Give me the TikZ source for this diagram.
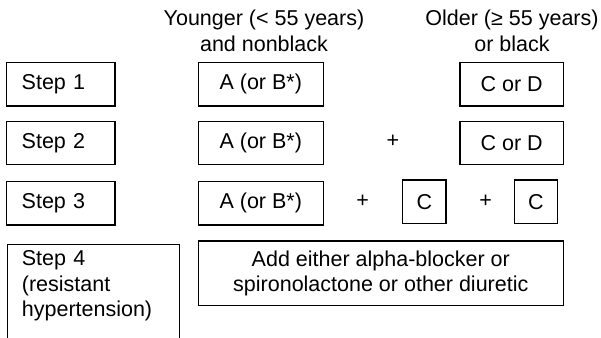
\documentclass[tikz,border=0pt]{standalone}
\usepackage{fontspec}
\setmainfont{Liberation Sans}
\begin{document}
\begin{tikzpicture}[x=1pt,y=-1pt,
  every node/.style={font=\fontsize{21.5}{25.5}\selectfont, inner sep=0pt},
  box/.style={draw, line width=1.1pt, align=center},
  stepbox/.style={box, text width=78.3pt, inner xsep=15pt, align=left, minimum height=43.3pt},
  abox/.style={box, minimum width=125pt, minimum height=43.3pt},
  cdbox/.style={box, minimum width=103.3pt, minimum height=43.3pt},
  cbox/.style={box, minimum width=43.3pt, minimum height=43.3pt},
  plussign/.style={},
  header/.style={align=center, anchor=north}]
\useasboundingbox (0,0) rectangle (601,337);
\clip (0,0) rectangle (601,337);
% headers
\node[header] (hy) at (264,10) {Younger (< 55 years)\\and nonblack};
\node[header] (ho) at (512,10) {Older (≥ 55 years)\\or black};
% step labels
\node[stepbox] (s1) at (60.85,84.35) {Step 1};
\node[stepbox] (s2) at (60.85,143) {Step 2};
\node[stepbox] (s3) at (60.85,203.35) {Step 3};
\node[box, minimum width=172.3pt, minimum height=120pt, anchor=north west] (s4) at (6.7,244) {};
\node[anchor=north west, text width=150pt, align=left] (s4t) at ([xshift=15pt,yshift=-6.5pt]s4.north west) {Step 4\\(resistant\\hypertension)};
% row 1
\node[abox] (a1) at (260.8,84.35) {A (or B*)};
\node[cdbox] (cd1) at (511.65,84.35) {C or D};
% row 2
\node[abox] (a2) at (260.8,143) {A (or B*)};
\node[plussign] (p2) at (393,141.5) {+};
\node[cdbox] (cd2) at (511.65,143) {C or D};
% row 3
\node[abox] (a3) at (260.8,203.35) {A (or B*)};
\node[plussign] (p3a) at (362.7,201.5) {+};
\node[cbox] (c1) at (424.35,201.65) {C};
\node[plussign] (p3b) at (485.7,201.5) {+};
\node[cbox] (c2) at (536,201.65) {C};
% row 4
\node[box, minimum width=365pt, minimum height=64.7pt] (add) at (380.8,273.35) {Add either alpha-blocker or\\spironolactone or other diuretic};
\end{tikzpicture}
\end{document}
